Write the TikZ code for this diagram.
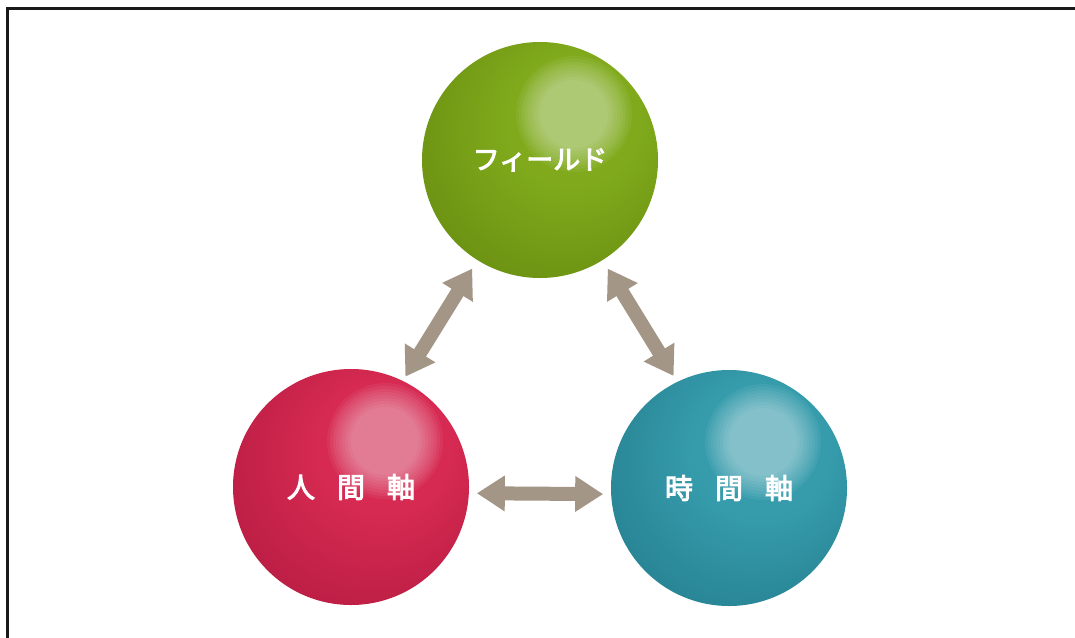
\documentclass[tikz,border=0pt]{standalone}
\usepackage{fontspec}
\newfontfamily\cjk{Noto Sans CJK JP}[FakeBold=3.5]
\usetikzlibrary{arrows.meta}
\definecolor{gM}{RGB}{128,170,28}
\definecolor{gD}{RGB}{108,146,18}
\definecolor{gDD}{RGB}{90,124,14}
\definecolor{gDDD}{RGB}{78,108,14}
\definecolor{rM}{RGB}{214,42,82}
\definecolor{rD}{RGB}{188,30,68}
\definecolor{rDD}{RGB}{158,24,58}
\definecolor{rDDD}{RGB}{140,22,52}
\definecolor{tM}{RGB}{54,156,172}
\definecolor{tD}{RGB}{40,132,148}
\definecolor{tDD}{RGB}{30,108,122}
\definecolor{tDDD}{RGB}{26,94,108}
\definecolor{arrowc}{RGB}{163,150,135}
\definecolor{framec}{RGB}{25,25,25}
\pgfdeclareradialshading{gball}{\pgfpoint{10bp}{12bp}}{color(0bp)=(gM); color(14bp)=(gM); color(32bp)=(gD); color(44bp)=(gDD); color(50bp)=(gDDD)}
\pgfdeclareradialshading{rball}{\pgfpoint{10bp}{12bp}}{color(0bp)=(rM); color(14bp)=(rM); color(32bp)=(rD); color(44bp)=(rDD); color(50bp)=(rDDD)}
\pgfdeclareradialshading{tball}{\pgfpoint{10bp}{12bp}}{color(0bp)=(tM); color(14bp)=(tM); color(32bp)=(tD); color(44bp)=(tDD); color(50bp)=(tDDD)}
\tikzset{
  sphere/.style={circle, minimum size=236pt, inner sep=0pt, outer sep=0pt, text=white,
    font=\cjk\fontsize{28pt}{28pt}\selectfont,
    path picture={\foreach \r in {34,37,...,58}
      {\fill[white, opacity=0.055] ([shift={(34pt,46pt)}]path picture bounding box.center) circle (\r pt);}}},
  tip/.tip={Triangle[length=28pt,width=34pt]},
  arr/.style={draw=arrowc, line width=14pt, tip-tip}
}
\begin{document}
\begin{tikzpicture}[x=1pt,y=-1pt]
\useasboundingbox (0,0) rectangle (1075,637);
\fill[white] (0,0) rectangle (1075,637);
\begin{scope}
\clip (0,0) rectangle (1075,637);
\draw[framec, line width=3pt] (7,8) rectangle (1090,650);
\end{scope}
\node[sphere, shading=gball] (field) at (540,160) {\fontsize{27pt}{27pt}\selectfont フィールド};
\node[sphere, shading=rball] (jinkan) at (351,487) {人\hspace{22pt}間\hspace{22pt}軸};
\node[sphere, shading=tball] (jikan) at (729,488) {時\hspace{22pt}間\hspace{22pt}軸};
\draw[arr, shorten <=10pt, shorten >=5pt] (field.238) -- (jinkan.64);
\draw[arr, shorten <=10pt, shorten >=7pt] (field.302) -- (jikan.116);
\draw[arr, shorten <=8pt, shorten >=8pt] (jinkan.-3) -- (jikan.183);
\end{tikzpicture}
\end{document}
